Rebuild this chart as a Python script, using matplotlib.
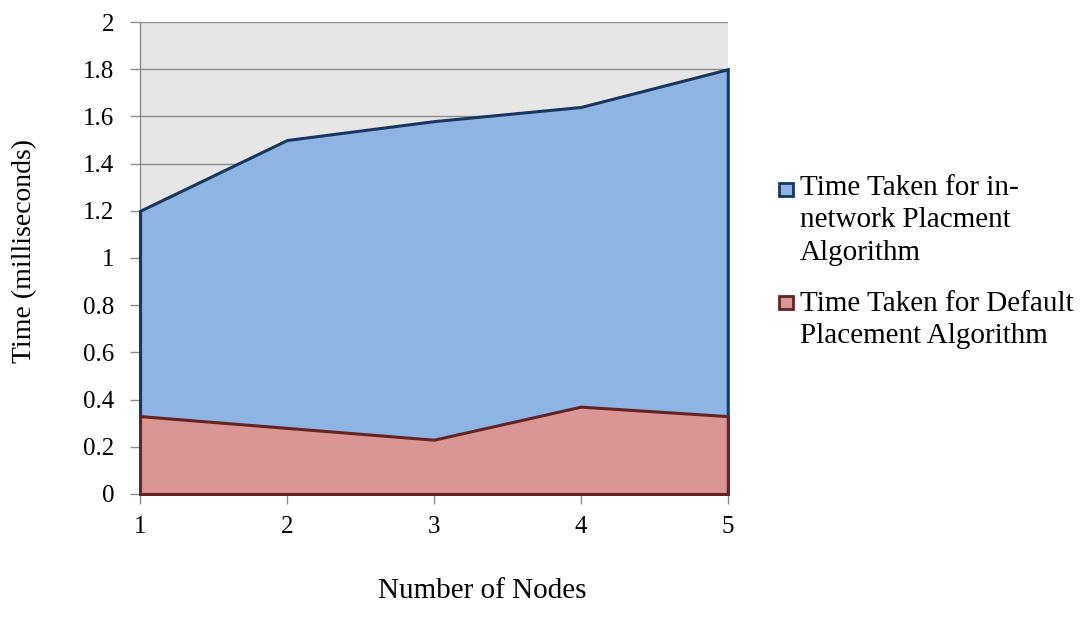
"""Placement algorithm timing: area chart of both algorithms."""

import matplotlib.pyplot as plt
from matplotlib.patches import Rectangle
from matplotlib.ticker import FuncFormatter, MultipleLocator

plt.rcParams["font.family"] = ["Liberation Serif", "DejaVu Serif"]

NODES = [1, 2, 3, 4, 5]
IN_NETWORK = [1.20, 1.50, 1.58, 1.64, 1.80]
DEFAULT = [0.33, 0.28, 0.23, 0.37, 0.33]

LABELS = [
    "Time Taken for in-\nnetwork Placment\nAlgorithm",
    "Time Taken for Default\nPlacement Algorithm",
]
FILLS = ["#8EB4E3", "#D99694"]
EDGES = ["#17375E", "#632523"]

fig = plt.figure(figsize=(10.83, 6.17), dpi=100)
ax = fig.add_axes([0.1293, 0.1994, 0.5427, 0.7649])
ax.set_facecolor("#E6E6E6")

# 两块面积互相重叠（非堆叠），默认算法画在上层
for vals, fc, ec in zip([IN_NETWORK, DEFAULT], FILLS, EDGES):
    ax.fill_between(NODES, 0, vals, facecolor=fc, edgecolor=ec,
                    linewidth=2.2, joinstyle="miter", zorder=3, clip_on=False)

ax.set_xlim(1, 5)
ax.set_ylim(0, 2)
ax.xaxis.set_major_locator(MultipleLocator(1))
ax.yaxis.set_major_locator(MultipleLocator(0.2))
ax.yaxis.set_major_formatter(FuncFormatter(lambda v, _: f"{v:g}"))
ax.grid(axis="y", color="#8C8C8C", linewidth=1.0, zorder=1)
ax.set_axisbelow(True)

for side in ["top", "right"]:
    ax.spines[side].set_visible(False)
for side in ["left", "bottom"]:
    ax.spines[side].set_color("#8C8C8C")
    ax.spines[side].set_linewidth(1.0)
ax.tick_params(axis="both", colors="#8C8C8C", length=7, width=1.0,
               labelsize=18, labelcolor="black")
ax.tick_params(axis="x", pad=9)
ax.tick_params(axis="y", pad=11.5)

fig.text(0.023, 0.593, "Time (milliseconds)", rotation=90,
         ha="center", va="center", fontsize=20)
fig.text(0.445, 0.0308, "Number of Nodes", ha="center", va="baseline",
         fontsize=21)

# 图例：色块对齐到第一行文字
legend_top = [0.717, 0.529]
marker_bottom = [0.6819, 0.4987]
for y, yb, label, fc, ec in zip(legend_top, marker_bottom, LABELS, FILLS, EDGES):
    fig.add_artist(Rectangle((0.7195, yb), 0.0125, 0.022,
                             transform=fig.transFigure, facecolor=fc,
                             edgecolor=ec, linewidth=2.0))
    fig.text(0.7385, y, label, ha="left", va="top",
             fontsize=21, linespacing=1.33)

plt.savefig("out.png", dpi=100)
